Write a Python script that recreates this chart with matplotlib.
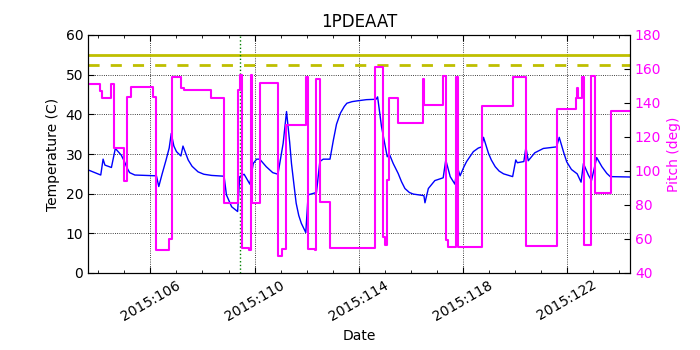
import matplotlib
matplotlib.use("Agg")
import matplotlib.pyplot as plt
from matplotlib.ticker import FixedLocator, MultipleLocator, FuncFormatter

# day of year 2015 -> temperature (C)
temp_day = [103.6, 104.09, 104.18, 104.25, 104.5, 104.65, 104.88, 105.0, 105.1,
            105.2, 105.4, 106.23, 106.32, 106.45, 106.6, 106.72, 106.8, 106.9,
            107.0, 107.17, 107.25, 107.45, 107.6, 107.83, 108.05, 108.35, 108.83,
            108.92, 109.12, 109.35, 109.43, 109.6, 109.82, 109.95, 110.08, 110.2,
            110.45, 110.7, 110.9, 111.1, 111.23, 111.35, 111.42, 111.52, 111.6,
            111.7, 111.8, 111.97, 112.06, 112.38, 112.51, 112.64, 112.9, 113.03,
            113.15, 113.3, 113.45, 113.55, 113.75, 113.95, 114.3, 114.67, 114.73,
            114.88, 115.1, 115.18, 115.33, 115.52, 115.65, 115.78, 115.95, 116.1,
            116.51, 116.55, 116.68, 116.93, 117.25, 117.35, 117.52, 117.7, 117.79,
            117.9, 118.05, 118.15, 118.41, 118.6, 118.73, 118.8, 118.99, 119.1,
            119.25, 119.4, 119.57, 119.92, 120.04, 120.1, 120.35, 120.43, 120.52,
            120.77, 121.1, 121.61, 121.71, 121.89, 122.0, 122.18, 122.4, 122.55,
            122.64, 122.83, 122.95, 123.15, 123.35, 123.54, 123.67, 124.43]
temp_val = [26.0, 24.7, 28.7, 27.2, 26.6, 31.4, 29.7, 28.1, 26.5,
            25.3, 24.7, 24.5, 21.8, 25.0, 28.5, 31.5, 35.2, 32.0,
            30.6, 29.5, 32.0, 28.5, 26.9, 25.5, 24.9, 24.6, 24.4,
            19.7, 16.7, 15.5, 24.3, 24.9, 22.4, 27.6, 28.7, 28.7,
            26.8, 25.3, 24.9, 32.7, 40.7, 33.0, 27.6, 22.0, 17.6,
            14.5, 12.5, 10.2, 19.7, 20.3, 28.1, 28.7, 28.7, 33.5,
            37.5, 40.3, 42.0, 42.8, 43.2, 43.4, 43.7, 43.8, 44.4,
            36.9, 29.3, 30.0, 27.6, 25.1, 23.0, 21.3, 20.3, 19.9,
            19.5, 17.7, 21.3, 23.3, 24.0, 28.5, 24.3, 22.4, 26.8,
            24.5, 26.8, 28.1, 30.6, 31.5, 31.8, 34.2, 30.2, 28.5,
            26.8, 25.7, 25.0, 24.3, 28.5, 27.8, 28.1, 31.7, 28.3,
            30.3, 31.4, 31.8, 34.2, 30.2, 28.0, 26.1, 25.0, 22.9,
            27.6, 24.7, 23.3, 29.1, 26.8, 25.1, 24.3, 24.2]

# day of year 2015 -> pitch (deg), held until next change
pitch_day = [103.6, 104.05, 104.14, 104.5, 104.59, 104.97, 105.08, 105.24,
             106.1, 106.23, 106.7, 106.81, 107.19, 107.29, 108.32, 108.83,
             109.35, 109.43, 109.52, 109.78, 109.85, 109.91, 110.2, 110.91,
             111.04, 111.2, 111.97, 112.06, 112.32, 112.38, 112.51, 112.9,
             114.63, 114.92, 115.01, 115.08, 115.18, 115.52, 116.49, 116.53,
             117.25, 117.36, 117.45, 117.74, 117.83, 118.73, 119.92, 120.43,
             121.62, 122.36, 122.38, 122.45, 122.58, 122.67, 122.92, 123.09,
             123.7, 124.43]
pitch_val = [151.2, 147.2, 142.8, 151.2, 113.4, 94.3, 143.7, 149.2,
             143.7, 53.5, 59.8, 155.1, 148.6, 147.6, 142.8, 81.0,
             147.6, 156.5, 54.5, 53.5, 156.5, 81.0, 151.6, 50.0,
             53.9, 127.1, 155.5, 53.9, 53.3, 153.9, 82.0, 54.5,
             161.4, 61.4, 56.5, 94.7, 142.8, 128.1, 153.9, 138.8,
             155.9, 59.4, 55.5, 155.5, 55.5, 138.2, 155.5, 55.9,
             136.3, 142.8, 148.6, 142.8, 155.5, 56.5, 155.9, 87.2,
             135.5, 135.5]

planning_limit = 55.0
caution_limit = 52.5
event_day = 109.43
major_days = [106, 110, 114, 118, 122]

plt.rcParams.update({
    "font.family": "DejaVu Sans",
    "xtick.direction": "in",
    "ytick.direction": "in",
    "xtick.top": True,
    "xtick.major.size": 4,
    "xtick.minor.size": 2,
    "ytick.major.size": 4,
})

fig = plt.figure(figsize=(7, 3.5), dpi=100, facecolor="white")
ax = fig.add_axes([88 / 700, 77 / 350, 542 / 700, 238 / 350])

ax.plot(temp_day, temp_val, color="#0000ff", lw=1.0)
ax.axhline(planning_limit, color="#bfbf00", lw=2)
ax.axhline(caution_limit, color="#bfbf00", lw=2, ls="--", dashes=(4, 4))
ax.axvline(event_day, color="green", lw=1, ls=":")

ax.set_xlim(temp_day[0], temp_day[-1])
ax.set_ylim(0, 60)
ax.yaxis.set_major_locator(MultipleLocator(10))
ax.xaxis.set_major_locator(FixedLocator(major_days))
ax.xaxis.set_minor_locator(MultipleLocator(1))
ax.xaxis.set_major_formatter(FuncFormatter(lambda v, p: "2015:%03d" % round(v)))
ax.grid(True, color="black", ls=":", lw=0.6)
ax.tick_params(labelsize=10)
for lab in ax.get_xticklabels():
    lab.set_rotation(30)
ax.set_xlabel("Date", fontsize=10)
ax.set_ylabel("Temperature (C)", fontsize=10)
ax.set_title("1PDEAAT", fontsize=12)

ax2 = ax.twinx()
ax2.step(pitch_day, pitch_val, where="post", color="#ff00ff", lw=1.5)
ax2.set_ylim(40, 180)
ax2.yaxis.set_major_locator(MultipleLocator(20))
ax2.tick_params(axis="y", direction="in", labelsize=10, labelcolor="#ff00ff")
ax2.set_ylabel("Pitch (deg)", color="#ff00ff", fontsize=10)
ax2.set_xlim(temp_day[0], temp_day[-1])

fig.savefig("out.png", dpi=100, facecolor="white")
